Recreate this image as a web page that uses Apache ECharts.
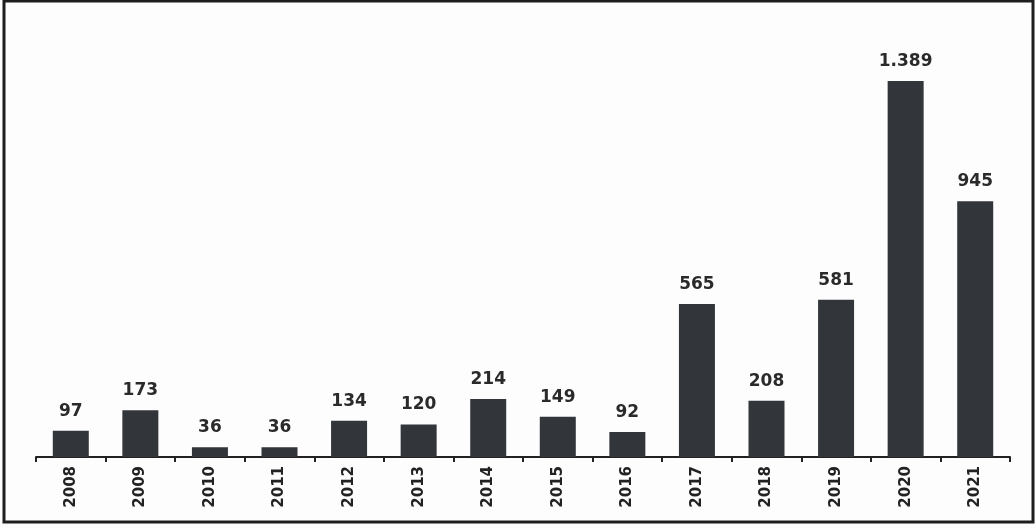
<!DOCTYPE html>
<html>
<head>
<meta charset="utf-8">
<script src="https://cdn.jsdelivr.net/npm/echarts@6/dist/echarts.min.js"></script>
<style>
html,body{margin:0;padding:0;background:#fff;}
#chart{width:1036px;height:529px;}
</style>
</head>
<body>
<div id="chart"></div>
<script>
const categories = ['2008','2009','2010','2011','2012','2013','2014','2015','2016','2017','2018','2019','2020','2021'];
const values = [97,173,36,36,134,120,214,149,92,565,208,581,1389,945];

const chart = echarts.init(document.getElementById('chart'));
chart.setOption({
  backgroundColor: '#fdfdfd',
  animation: false,
  graphic: [{
    type: 'rect',
    shape: { x: 4, y: 1, width: 1029, height: 521 },
    style: { fill: 'none', stroke: '#1e1e1e', lineWidth: 3 },
    silent: true
  }],
  grid: { left: 36, right: 26, top: 51, bottom: 72 },
  xAxis: {
    type: 'category',
    data: categories,
    axisLine: { show: true, lineStyle: { color: '#222', width: 2 } },
    axisTick: { show: true, length: 5, lineStyle: { color: '#222', width: 2 } },
    axisLabel: {
      rotate: 90,
      color: '#222',
      fontFamily: 'DejaVu Sans',
      fontWeight: 'bold',
      fontSize: 15,
      margin: 9
    }
  },
  yAxis: {
    type: 'value',
    min: 0,
    max: 1500,
    show: false,
    splitLine: { show: false }
  },
  series: [{
    type: 'bar',
    data: values,
    barWidth: 36,
    itemStyle: { color: '#32353a' },
    label: {
      show: true,
      position: 'top',
      distance: 11,
      color: '#2a2a2a',
      fontFamily: 'DejaVu Sans',
      fontWeight: 'bold',
      fontSize: 17,
      formatter: p => String(p.value).replace(/\B(?=(\d{3})+(?!\d))/g, '.')
    }
  }]
});
</script>
</body>
</html>
